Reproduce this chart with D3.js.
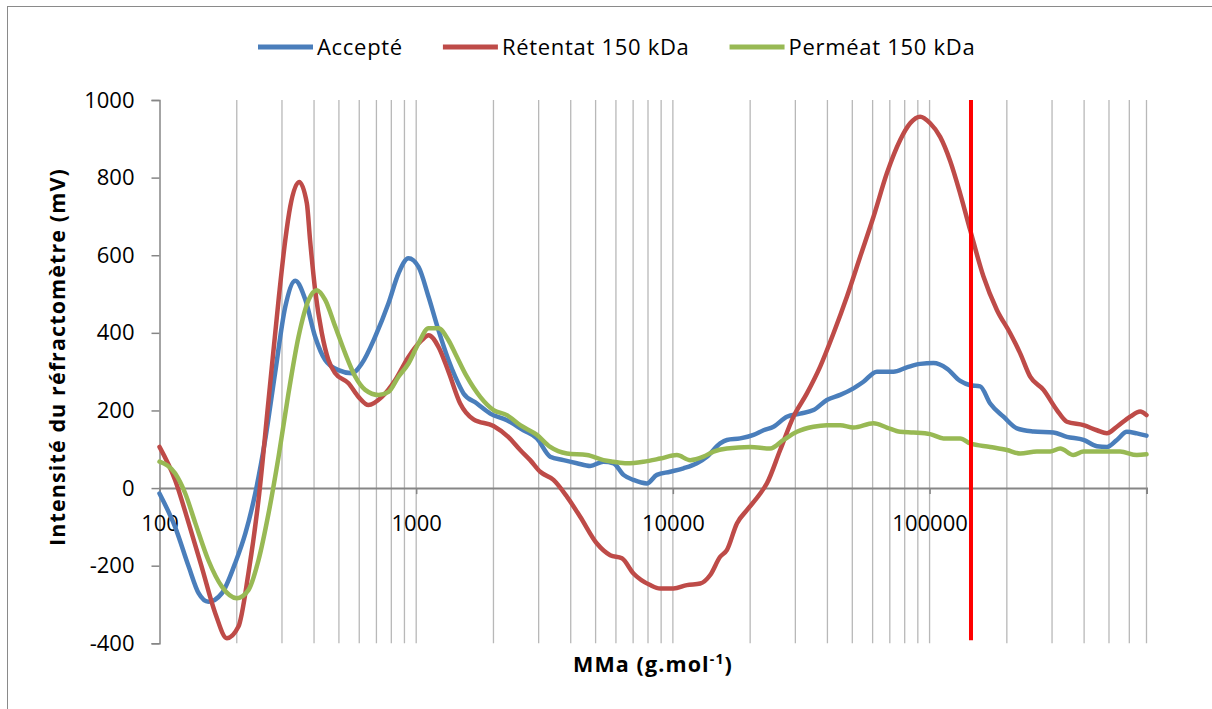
<!DOCTYPE html>
<html>
<head>
<meta charset="utf-8">
<script src="https://cdn.jsdelivr.net/npm/d3@7"></script>
<style>
  html, body { margin: 0; padding: 0; background: #fff; }
  svg { display: block; }
  text { font-family: "Open Sans", "Liberation Sans", sans-serif; }
</style>
</head>
<body>
<svg id="chart" width="1212" height="709"></svg>
<script>
// ---- data ----
const seriesNames = ["Accepté", "Rétentat 150 kDa", "Perméat 150 kDa"];
const seriesColors = ["#4A7EBB", "#BE4B48", "#98B954"];

const mmaAccepte = [100,115,130,142,155,175,197,216,236,258,282,309,338,370,404,442,498,562,614,692,780,853,933,1021,1117,1221,1336,1419,1529,1724,1943,2256,2618,2953,3327,3748,4227,4763,5365,5870,6422,7024,7919,8662,9761,11000,12400,13570,15280,16230,18290,20610,22540,24660,27790,31330,35300,39800,44840,50520,55260,62340,72350,81570,91920,103560,116800,131580,143930,157440,172200,194070,218850,253980,303880,342680,397770,448560,490660,536600,587000,642100,700000];
const accepte = [-14,-100,-203,-271,-293,-271,-194,-117,-14,124,296,467,534,485,390,330,304,296,321,390,476,553,592,570,493,407,330,287,244,218,192,175,149,128,81,72,64,57,68,64,34,21,12,34,42,51,64,81,115,124,128,137,149,158,184,192,201,227,240,257,274,300,300,311,320,322,308,276,265,262,218,184,154,146,143,132,124,108,106,124,145,141,135];

const mmaRetentat = [100,115,130,146,165,183,203,222,243,266,291,309,323,350,375,386,404,429,455,484,545,596,652,735,828,933,1052,1117,1221,1336,1484,1672,2001,2283,2542,2780,3042,3426,3864,4354,5058,5699,6330,7024,8158,8922,10054,11340,12780,13980,15280,16230,17760,19420,21890,23240,26180,29500,33270,37480,42250,47630,53650,60470,68170,76820,84020,91920,100540,109970,120290,131580,143930,162170,182920,206070,225430,246560,277860,313310,342680,397770,448560,490660,536600,604700,661400,700000];
const retentat = [106,21,-91,-203,-323,-387,-357,-220,-31,227,485,639,725,789,734,639,510,399,330,296,270,235,214,235,278,338,381,394,364,300,218,177,160,132,98,72,42,21,-22,-74,-143,-173,-181,-220,-250,-259,-259,-250,-246,-224,-177,-160,-91,-57,-14,12,98,184,244,313,399,493,596,699,811,897,940,957,940,905,843,759,665,545,459,399,347,287,253,201,171,162,149,141,158,184,197,188];

const mmaPermeat = [100,115,126,138,155,175,200,222,243,266,291,318,348,381,410,442,484,529,579,633,713,780,853,933,1021,1117,1221,1336,1419,1576,1776,2001,2256,2542,2953,3327,3864,4624,5365,5870,6621,7682,8922,10365,11680,13160,14400,16230,20000,23930,26960,30420,35300,39800,44840,50520,60470,68170,76820,86540,100540,113290,131580,143930,172200,200050,225430,261820,295000,322750,363670,397770,461950,552600,642100,700000];
const permeat = [68,38,-14,-91,-186,-254,-284,-263,-186,-65,81,244,390,485,510,485,416,347,287,253,240,248,287,321,373,412,412,381,347,287,235,201,188,162,137,106,89,85,72,68,64,68,76,85,72,81,94,102,106,102,124,145,158,162,162,156,167,156,145,143,139,128,128,115,106,98,89,94,94,102,85,94,94,94,85,87];

const xMajorTicks = [100, 1000, 10000, 100000];
const yTicks = [-400, -200, 0, 200, 400, 600, 800, 1000];
const xDomain = [100, 700000];
const yDomain = [-400, 1000];
const cutoffMMa = 145000; // vertical red marker (150 kDa membrane)

const xTitle = "MMa (g.mol";
const xTitleSup = "-1";
const yTitle = "Intensité du réfractomètre (mV)";

// ---- layout ----
const svg = d3.select("#chart");
const plotLeft = 159.5, plotRight = 1146.5, plotTop = 100, plotBottom = 643.3;
const plainFmt = d => String(d);

const x = d3.scaleLog().domain(xDomain).range([plotLeft, plotRight]);
const y = d3.scaleLinear().domain(yDomain).range([plotBottom, plotTop]);

// outer border
svg.append("rect")
  .attr("x", 7.5).attr("y", 6.5).attr("width", 1300).attr("height", 800)
  .attr("fill", "none").attr("stroke", "#8a8a8a").attr("stroke-width", 1);

// vertical gridlines (log minor)
const gridVals = [];
for (let p = 100; p <= 100000; p *= 10) {
  for (let m = 1; m <= 9; m++) {
    const v = m * p;
    if (v > xDomain[0] && v <= xDomain[1]) gridVals.push(v);
  }
}
svg.append("g").selectAll("line").data(gridVals).join("line")
  .attr("x1", d => x(d)).attr("x2", d => x(d))
  .attr("y1", plotTop).attr("y2", plotBottom)
  .attr("stroke", "#b8b8b8").attr("stroke-width", 1.3);

// y axis
const yAxis = svg.append("g")
  .attr("transform", `translate(${plotLeft},0)`)
  .call(d3.axisLeft(y).tickValues(yTicks).tickSize(8).tickPadding(17).tickFormat(plainFmt));
yAxis.select(".domain").attr("stroke", "#868686").attr("stroke-width", 1.5);
yAxis.selectAll(".tick line").attr("stroke", "#868686").attr("stroke-width", 1.5);
yAxis.selectAll("text").attr("font-size", 22).attr("fill", "#000")
  .attr("font-family", "'Open Sans', sans-serif");

// x axis (at y = 0)
const xAxis = svg.append("g")
  .attr("transform", `translate(0,${y(0)})`)
  .call(d3.axisBottom(x).tickValues(xMajorTicks).tickSize(6).tickPadding(21).tickFormat(plainFmt));
xAxis.select(".domain").attr("stroke", "#868686").attr("stroke-width", 2);
xAxis.selectAll(".tick line").attr("stroke", "#868686").attr("stroke-width", 1.5);
xAxis.selectAll("text").attr("font-size", 22).attr("fill", "#000")
  .attr("font-family", "'Open Sans', sans-serif");

// series
const series = [
  { name: seriesNames[0], color: seriesColors[0], xs: mmaAccepte, ys: accepte },
  { name: seriesNames[1], color: seriesColors[1], xs: mmaRetentat, ys: retentat },
  { name: seriesNames[2], color: seriesColors[2], xs: mmaPermeat, ys: permeat }
];
const line = d3.line().x(d => x(d[0])).y(d => y(d[1])).curve(d3.curveMonotoneX);
svg.append("g").selectAll("path").data(series).join("path")
  .attr("d", s => line(s.xs.map((v, i) => [v, s.ys[i]])))
  .attr("fill", "none")
  .attr("stroke", s => s.color)
  .attr("stroke-width", 4.5)
  .attr("stroke-linejoin", "round")
  .attr("stroke-linecap", "round");

// red vertical cutoff line
svg.append("line")
  .attr("x1", x(cutoffMMa)).attr("x2", x(cutoffMMa))
  .attr("y1", plotTop).attr("y2", plotBottom - 3)
  .attr("stroke", "#FF0000").attr("stroke-width", 4);

// axis titles
svg.append("text")
  .attr("transform", `translate(65,357) rotate(-90)`)
  .attr("text-anchor", "middle")
  .attr("font-size", 21.5).attr("font-weight", "bold")
  .attr("letter-spacing", 1.1)
  .text(yTitle);

const xt = svg.append("text")
  .attr("x", 653).attr("y", 672)
  .attr("text-anchor", "middle")
  .attr("font-size", 21.5).attr("font-weight", "bold")
  .attr("letter-spacing", 1.1);
xt.append("tspan").text(xTitle);
xt.append("tspan").attr("font-size", 14).attr("dy", -8).text(xTitleSup);
xt.append("tspan").attr("dy", 8).text(")");

// legend
const legend = svg.append("g");
let lx = 258;
const ly = 47;
series.forEach((s, i) => {
  legend.append("line")
    .attr("x1", lx).attr("x2", lx + 55).attr("y1", ly).attr("y2", ly)
    .attr("stroke", s.color).attr("stroke-width", 5);
  const t = legend.append("text")
    .attr("x", lx + 59).attr("y", ly + 8)
    .attr("font-size", 22).attr("letter-spacing", 0.7).attr("fill", "#000")
    .text(s.name);
  const w = t.node().getComputedTextLength();
  lx = lx + 59 + w + 40;
});
</script>
</body>
</html>
